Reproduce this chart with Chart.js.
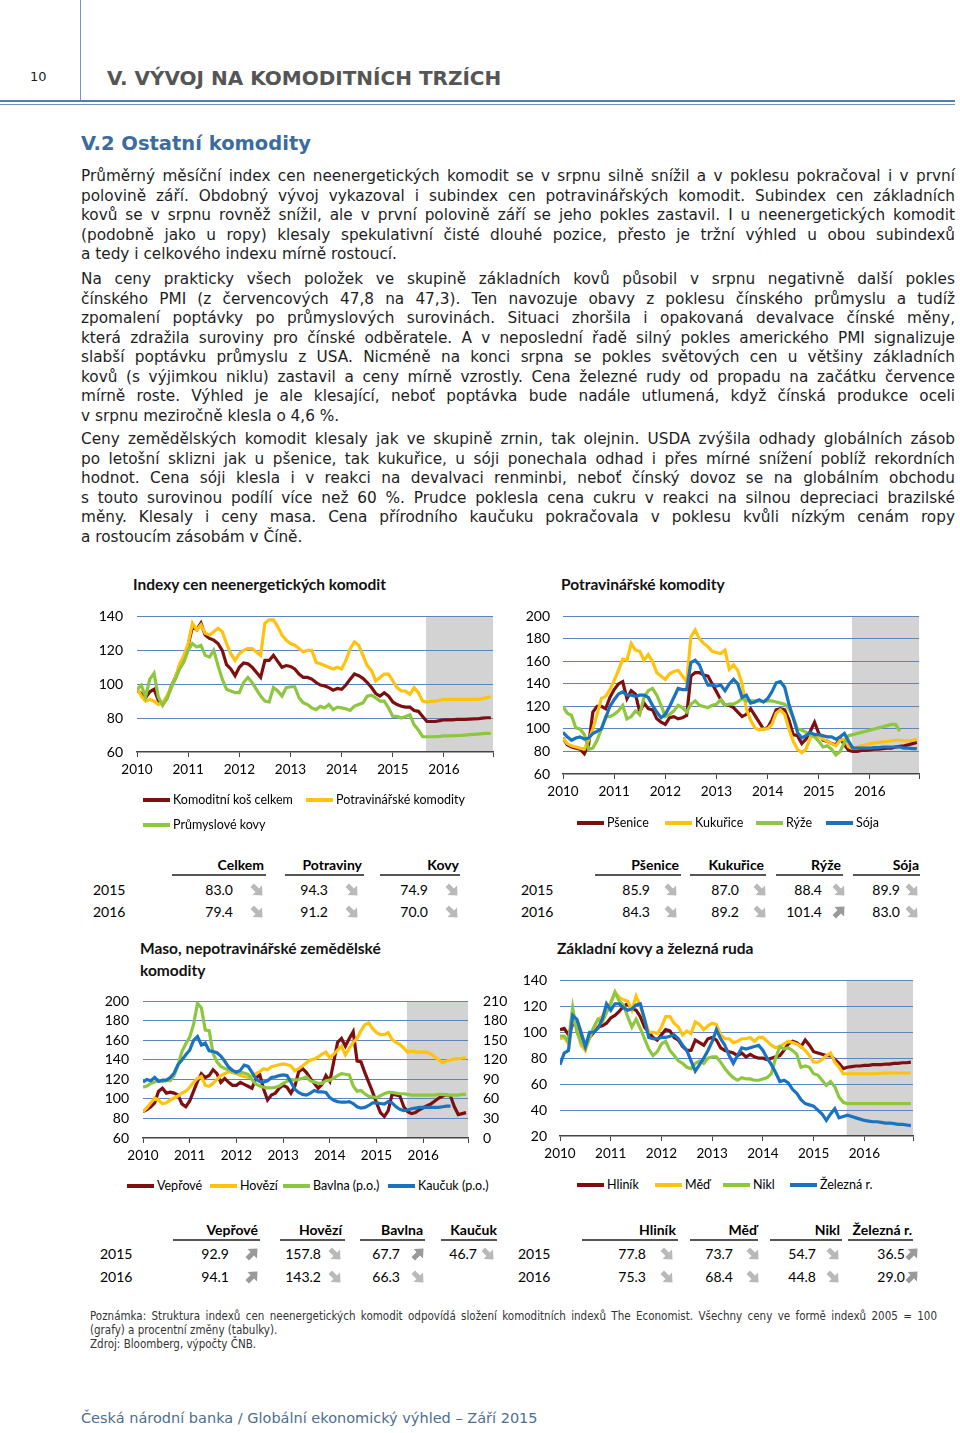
<!DOCTYPE html>
<html lang="cs">
<head>
<meta charset="utf-8">
<title>V.2 Ostatní komodity</title>
<script src="https://cdn.jsdelivr.net/npm/chart.js@4.4.1/dist/chart.umd.min.js"></script>
<style>
  body { margin: 0; width: 960px; height: 1433px; position: relative; overflow: hidden;
         background: #fff; color: #1e1e1e; font-family: 'DejaVu Sans', Verdana, sans-serif; }
  .abs { position: absolute; white-space: nowrap; }
  .pageno { left: 30px; top: 69px; font-size: 13px; }
  .vline { left: 80px; top: 0; width: 1px; height: 102px; background: #7896bd; }
  .hline1 { left: 0; top: 100px; width: 955px; height: 2px; background: #4f7db4; }
  .hline2 { left: 0; top: 104px; width: 955px; height: 1px; background: #6f93c0; }
  .chapter { left: 107px; top: 66px; font-size: 20px; font-weight: bold; color: #555; }
  .section { left: 81px; top: 132px; font-size: 19.5px; font-weight: bold; color: #3c6c9e; }
  .para { left: 81px; width: 874px; font-size: 15.3px; line-height: 19.5px; }
  .para div { white-space: nowrap; text-align: justify; text-align-last: justify; }
  .para div.last { text-align-last: left; }
  .ctitle { font-family: Lato, sans-serif; font-weight: bold; font-size: 15.5px; color: #111; line-height: 22px; }
  .lg { font-family: Lato, sans-serif; font-size: 12.5px; color: #000; }
  .sw { position: absolute; height: 3.5px; }
  .tb { font-family: Lato, sans-serif; font-size: 14px; color: #000; }
  .tb.h { font-weight: bold; }
  .ul { position: absolute; height: 1.5px; background: #555; }
  .note { left: 90px; width: 847px; font-family: 'DejaVu Sans Condensed', 'DejaVu Sans', sans-serif;
          font-stretch: condensed; font-size: 11.5px; line-height: 14px; color: #333; }
  .note div { white-space: nowrap; }
  .note div.j { text-align: justify; text-align-last: justify; }
  .footer { left: 81px; top: 1410px; font-size: 14.5px; color: #4d6f92; }
</style>
</head>
<body>

<div class="abs vline"></div>
<div class="abs pageno">10</div>
<div class="abs chapter">V. VÝVOJ NA KOMODITNÍCH TRZÍCH</div>
<div class="abs hline1"></div>
<div class="abs hline2"></div>
<div class="abs section">V.2 Ostatní komodity</div>

<div class="abs para" style="top:167px">
  <div>Průměrný měsíční index cen neenergetických komodit se v srpnu silně snížil a v poklesu pokračoval i v první</div>
  <div>polovině září. Obdobný vývoj vykazoval i subindex cen potravinářských komodit. Subindex cen základních</div>
  <div>kovů se v srpnu rovněž snížil, ale v první polovině září se jeho pokles zastavil. I u neenergetických komodit</div>
  <div>(podobně jako u ropy) klesaly spekulativní čisté dlouhé pozice, přesto je tržní výhled u obou subindexů</div>
  <div class="last">a tedy i celkového indexu mírně rostoucí.</div>
</div>
<div class="abs para" style="top:270px">
  <div>Na ceny prakticky všech položek ve skupině základních kovů působil v srpnu negativně další pokles</div>
  <div>čínského PMI (z červencových 47,8 na 47,3). Ten navozuje obavy z poklesu čínského průmyslu a tudíž</div>
  <div>zpomalení poptávky po průmyslových surovinách. Situaci zhoršila i opakovaná devalvace čínské měny,</div>
  <div>která zdražila suroviny pro čínské odběratele. A v neposlední řadě silný pokles amerického PMI signalizuje</div>
  <div>slabší poptávku průmyslu z USA. Nicméně na konci srpna se pokles světových cen u většiny základních</div>
  <div>kovů (s výjimkou niklu) zastavil a ceny mírně vzrostly. Cena železné rudy od propadu na začátku července</div>
  <div>mírně roste. Výhled je ale klesající, neboť poptávka bude nadále utlumená, když čínská produkce oceli</div>
  <div class="last">v srpnu meziročně klesla o 4,6 %.</div>
</div>
<div class="abs para" style="top:430px">
  <div>Ceny zemědělských komodit klesaly jak ve skupině zrnin, tak olejnin. USDA zvýšila odhady globálních zásob</div>
  <div>po letošní sklizni jak u pšenice, tak kukuřice, u sóji ponechala odhad i přes mírné snížení poblíž rekordních</div>
  <div>hodnot. Cena sóji klesla i v reakci na devalvaci renminbi, neboť čínský dovoz se na globálním obchodu</div>
  <div>s touto surovinou podílí více než 60 %. Prudce poklesla cena cukru v reakci na silnou depreciaci brazilské</div>
  <div>měny. Klesaly i ceny masa. Cena přírodního kaučuku pokračovala v poklesu kvůli nízkým cenám ropy</div>
  <div class="last">a rostoucím zásobám v Číně.</div>
</div>

<div class="abs ctitle" style="left:133px; top:573px">Indexy cen neenergetických komodit</div>
<div class="abs ctitle" style="left:561px; top:573px">Potravinářské komodity</div>
<div class="abs ctitle" style="left:140px; top:937px">Maso, nepotravinářské zemědělské<br>komodity</div>
<div class="abs ctitle" style="left:557px; top:937px">Základní kovy a železná ruda</div>

<div class="abs" style="left:90px; top:594px"><canvas id="c1" width="410" height="192"></canvas></div>
<div class="abs" style="left:510px; top:595px"><canvas id="c2" width="415" height="211"></canvas></div>
<div class="abs" style="left:90px; top:978px"><canvas id="c3" width="430" height="192"></canvas></div>
<div class="abs" style="left:510px; top:959px"><canvas id="c4" width="410" height="211"></canvas></div>

<div id="legends"></div>
<div id="tables"></div>

<div class="abs note" style="top:1309px">
  <div class="j">Poznámka: Struktura indexů cen neenergetických komodit odpovídá složení komoditních indexů The Economist. Všechny ceny ve formě indexů 2005 = 100</div>
  <div>(grafy) a procentní změny (tabulky).</div>
  <div>Zdroj: Bloomberg, výpočty ČNB.</div>
</div>

<div class="abs footer">Česká národní banka / Globální ekonomický výhled – Září 2015</div>

<script>
// monthly values, month 0 = January 2010; the grey band is the forecast
const MONTHS = Array.from({ length: 84 }, (_, i) => i);
const YEARS = ['2010', '2011', '2012', '2013', '2014', '2015', '2016'];
const FORECAST_FROM = 67.8;

// chart 1 - Indexy cen neenergetických komodit
const basketTotal = [96.5, 94.5, 92, 95.5, 97, 90.5, 88, 91.5, 98.5, 104, 110, 115.5,
  123, 134, 132, 136, 129, 127, 126, 124, 120, 111.5, 109, 105,
  110, 112.5, 112, 110, 107, 104, 114, 114, 117, 113.5, 110, 111,
  110.5, 109, 106, 104, 104, 103, 101, 99.5, 99, 98, 96.5, 97.5,
  97, 99.5, 103, 106, 105, 103.5, 101, 98, 94.5, 93, 95, 93,
  89.5, 88, 87, 86.5, 86.5, 84.5, 84, 81, 78, 78, 78, 78.5,
  79, 79, 79, 79.2, 79.2, 79.3, 79.4, 79.5, 79.6, 80, 80.2, 80.2];
const foodIndex = [98, 93, 90, 91, 90, 88, 89, 93, 98, 104, 112, 117,
  124, 136, 132, 135, 130, 129, 131, 133, 131, 124, 118, 114,
  118, 120, 121, 121, 119, 117, 136, 138, 138, 134, 129, 126,
  124, 123, 121, 119, 120, 120, 113, 112, 111, 110, 109, 110,
  109, 114, 121, 125, 123, 117, 111, 108, 102, 104, 106, 106,
  102, 98, 96, 96, 94, 98, 95, 90, 89.5, 89.8, 90, 90.5,
  91, 91, 91, 91, 91, 91, 91, 91, 91, 91.5, 92, 92.5];
const metalsIndex = [97, 99.5, 92.5, 103, 106.5, 92.5, 87.5, 91.5, 97.5, 103, 109, 113,
  120, 124, 122, 123, 117, 116, 120, 111, 103, 97, 96, 95,
  95, 101, 104, 101, 97, 93, 90, 89.5, 98, 96, 93, 98,
  98.5, 98.5, 92, 89, 88, 86, 85, 87, 86, 88, 85, 86.5,
  86, 85.5, 84.5, 87, 88, 89, 93, 93.5, 92, 90, 90, 86,
  81, 81, 80, 81, 82, 76, 73, 69, 69, 69, 69, 69.2,
  69.5, 69.5, 69.6, 69.7, 69.8, 70, 70.2, 70.4, 70.6, 70.8, 71, 71];

// chart 2 - Potravinářské komodity
const wheat = [92, 86, 84, 83, 82, 78, 86, 115, 120, 120, 118, 128,
  135, 140, 142, 127, 134, 131, 115, 123, 118, 117, 109, 106,
  104, 110, 111, 109, 110, 112, 147, 150, 150, 148, 147, 140,
  133, 126, 121, 121, 119, 115, 111, 113, 118, 112, 106, 100,
  101, 108, 117, 118, 117, 108, 95, 94, 87, 91, 98, 106,
  96, 90, 89, 87, 86, 92, 86, 81, 80, 80, 81, 81,
  81.5, 82, 82, 82.5, 83, 83, 84, 84.5, 85, 86, 87, 88];
const corn = [92, 87, 85, 84, 83, 82, 90, 100, 113, 127, 129, 135,
  143, 152, 162, 161, 176, 170, 169, 161, 166, 160, 150, 147,
  144, 149, 151, 152, 147, 142, 182, 188, 180, 176, 173, 169,
  168, 167, 170, 153, 157, 152, 140, 118, 108, 101, 99, 100,
  100, 104, 114, 117, 113, 100, 89, 82, 79, 82, 92, 95,
  93, 91, 89, 87, 85, 90, 91, 84, 83, 84, 85, 86,
  87, 87.5, 88, 88.5, 89, 89.5, 90, 90, 89.5, 89.5, 90, 91];
const rice = [120, 114, 112, 101, 100, 95, 82, 83, 90, 100, 111, 111,
  113, 116, 121, 109, 111, 116, 113, 128, 134, 136, 130, 121,
  111, 113, 116, 121, 119, 115, 122, 125, 121, 120, 119, 121,
  122, 126, 121, 122, 122, 124, 127, 125, 125, 125, 125, 124,
  125, 125, 124, 123, 122, 118, 110, 100, 99, 97, 95, 93,
  89, 84, 85, 82, 77, 80, 88, 94, 95, 96, 97, 98,
  99, 100, 101, 102, 103, 104, 104, 98];
const soy = [97, 93, 90, 92, 93, 91, 92, 96, 98, 100, 110, 120,
  126, 131, 133, 130, 130, 129, 130, 130, 128, 121, 115, 110,
  113, 120, 128, 136, 135, 135, 159, 161, 157, 147, 139, 139,
  138, 139, 134, 140, 144, 140, 128, 130, 123, 124, 126, 124,
  127, 133, 141, 142, 137, 122, 110, 97, 92, 94, 97, 95,
  95, 94, 93, 93, 91, 93, 96, 89, 83, 83, 83, 83,
  83, 83.5, 83.5, 84, 84, 84, 84, 84, 83, 83, 82.5, 82.5];

// chart 3 - Maso, nepotravinářské zemědělské komodity (p.o. = right axis)
const pork = [87, 89, 92, 96, 108, 111, 106, 107, 106, 104, 95, 92,
  98, 108, 118, 126, 122, 124, 130, 126, 117, 121, 117, 114,
  114, 117, 115, 113, 111, 121, 125, 110, 99, 104, 106, 111,
  114, 112, 106, 113, 128, 131, 127, 121, 116, 111, 115, 124,
  118, 138, 158, 162, 154, 162, 169, 139, 138, 127, 117, 107,
  96, 86, 82, 88, 105, 104, 103, 92, 87, 85, 86, 89,
  91, 93, 95, 98, 101, 103, 104, 103, 92, 84, 85, 86];
const beef = [87, 91, 96, 101, 99, 95, 96, 99, 101, 103, 106, 108,
  112, 117, 121, 123, 114, 113, 116, 120, 124, 126, 128, 127,
  126, 124, 123, 122, 124, 126, 128, 131, 130, 133, 134, 135,
  136, 135, 134, 129, 131, 134, 137, 140, 141, 143, 146, 148,
  142, 146, 150, 154, 145, 152, 158, 162, 170, 176, 178, 172,
  168, 166, 166, 168, 161, 158, 156, 152, 148, 149, 148, 148,
  148, 148, 146, 143, 140, 137, 139, 140, 141, 141, 142, 142];
const cotton = [78, 80, 84, 86, 89, 87, 88, 88, 96, 112, 133, 145,
  155, 175, 207, 200, 166, 165, 130, 117, 110, 107, 105, 103,
  100, 101, 100, 98, 90, 83, 80, 78, 77, 77, 78, 80,
  84, 87, 90, 89, 90, 92, 94, 88, 86, 84, 84, 88,
  89, 92, 96, 99, 98, 97, 80, 72, 73, 68, 64, 63,
  62, 65, 68, 70, 70, 69, 68, 68, 67, 66, 66, 66,
  66, 66, 66, 66, 67, 67, 66, 66, 66, 66, 67, 67];
const rubber = [86, 90, 88, 93, 87, 89, 89, 93, 100, 113, 120, 128,
  135, 150, 156, 143, 146, 134, 133, 131, 126, 118, 109, 104,
  101, 104, 112, 110, 101, 91, 87, 86, 88, 93, 94, 96,
  97, 96, 86, 75, 70, 67, 66, 69, 73, 71, 71, 70,
  62, 58, 56, 55, 55, 56, 53, 48, 46, 47, 50, 54,
  54, 53, 52, 56, 54, 48, 44, 42, 43, 45, 46, 47,
  47, 47, 47, 47, 47, 48, 49, 49];

// chart 4 - Základní kovy a železná ruda
const aluminium = [102, 103, 98, 106, 107, 92, 89, 96, 100, 104, 105, 107,
  111, 113, 116, 120, 122, 118, 117, 112, 104, 100, 96, 94,
  98, 102, 101, 96, 94, 89, 86, 86, 94, 92, 90, 95,
  96, 94, 88, 86, 85, 84, 82, 84, 81, 83, 81, 80,
  80, 79, 80, 81, 82, 86, 91, 93, 92, 89, 94, 90,
  85, 84, 83, 82, 82, 79, 76, 72, 73, 73.5, 74, 74,
  74.5, 74.5, 75, 75, 75, 75.5, 75.5, 76, 76, 76.5, 76.5, 77];
const copper = [95, 96, 91, 112, 102, 90, 86, 96, 103, 110, 112, 118,
  123, 131, 127, 125, 124, 117, 128, 120, 110, 100, 100, 99,
  104, 112, 112, 107, 104, 98, 101, 99, 108, 106, 102, 105,
  107, 106, 98, 95, 95, 92, 93, 95, 95, 96, 93, 96,
  96, 93, 90, 88, 89, 91, 93, 92, 91, 89, 86, 82,
  77, 77, 79, 82, 84, 77, 73, 68, 68, 68, 68, 68,
  68, 68, 68, 68.2, 68.4, 68.5, 68.6, 68.6, 68.6, 68.6, 68.6, 68.6];
const nickel = [97, 97, 93, 119, 100, 92, 88, 96, 104, 110, 108, 115,
  122, 131, 124, 121, 112, 104, 110, 103, 95, 87, 82, 85,
  91, 93, 86, 82, 78, 76, 73, 72, 76, 78, 76, 80,
  81, 81, 77, 72, 68, 65, 63, 65, 64, 64, 63, 63,
  64, 65, 68, 80, 89, 87, 88, 86, 83, 73, 74, 73,
  68, 67, 63, 59, 62, 58, 50, 46, 45, 45, 45, 45,
  45, 45, 45, 45, 45, 45, 45, 45, 45, 45, 45, 45];
const ironOre = [75, 84, 86, 113, 110, 100, 89, 100, 100, 103, 110, 122,
  117, 122, 122, 119, 117, 118, 121, 122, 110, 96, 95, 95,
  96, 96, 97, 98, 95, 90, 86, 78, 70, 75, 80, 86,
  93, 102, 95, 90, 82, 76, 82, 88, 87, 88, 89, 90,
  86, 80, 75, 69, 62, 63, 61, 56, 53, 48, 45, 44,
  43, 40, 37, 32, 37, 41, 34, 35, 36, 35, 34, 33,
  32, 31.5, 31, 31, 30.5, 30, 30, 29.5, 29, 29, 28.5, 28];

// tables: yearly averages and arrows (d = falling, u = rising)
const tableYears = ['2015', '2016'];
const tab1Heads = ['Celkem', 'Potraviny', 'Kovy'];
const tab1Vals = [['83.0', '94.3', '74.9'], ['79.4', '91.2', '70.0']];
const tab1Dirs = [['d', 'd', 'd'], ['d', 'd', 'd']];
const tab2Heads = ['Pšenice', 'Kukuřice', 'Rýže', 'Sója'];
const tab2Vals = [['85.9', '87.0', '88.4', '89.9'], ['84.3', '89.2', '101.4', '83.0']];
const tab2Dirs = [['d', 'd', 'd', 'd'], ['d', 'd', 'u', 'd']];
const tab3Heads = ['Vepřové', 'Hovězí', 'Bavlna', 'Kaučuk'];
const tab3Vals = [['92.9', '157.8', '67.7', '46.7'], ['94.1', '143.2', '66.3', '']];
const tab3Dirs = [['u', 'd', 'u', 'd'], ['u', 'd', 'd', '']];
const tab4Heads = ['Hliník', 'Měď', 'Nikl', 'Železná r.'];
const tab4Vals = [['77.8', '73.7', '54.7', '36.5'], ['75.3', '68.4', '44.8', '29.0']];
const tab4Dirs = [['d', 'd', 'd', 'u'], ['d', 'd', 'd', 'u']];

const RED = '#7d0f0f', YELLOW = '#ffc20e', GREEN = '#8dc63f', BLUE = '#1a73c0';
const GRID = '#5a85c0';

Chart.defaults.font.family = 'Lato, sans-serif';
Chart.defaults.color = '#000';

const shadePlugin = {
  id: 'shade',
  beforeDraw(chart) {
    const { ctx, chartArea: a, scales: { x } } = chart;
    const x0 = x.getPixelForValue(FORECAST_FROM);
    ctx.save();
    ctx.fillStyle = '#d3d3d3';
    ctx.fillRect(x0, a.top, a.right - x0, a.bottom - a.top);
    ctx.restore();
  }
};

function xAxis(h) {
  return {
    type: 'linear', min: 0, max: 83.5,
    afterBuildTicks: s => { s.ticks = [0, 12, 24, 36, 48, 60, 72, 83.5].map(v => ({ value: v })); },
    afterFit: s => { s.height = h; },
    grid: { drawOnChartArea: false, drawTicks: true, tickLength: 5, color: '#444', lineWidth: 1 },
    border: { color: '#444', width: 1.5 },
    ticks: { padding: 5, maxRotation: 0, autoSkip: false, font: { size: 13.5 },
      callback: v => (v % 12 === 0 ? YEARS[v / 12] : '') }
  };
}

function yAxis(min, max, step, w, pad, pos) {
  return {
    position: pos || 'left', min, max,
    afterFit: s => { s.width = w; },
    ticks: { stepSize: step, padding: pad, autoSkip: false, font: { size: 14 } },
    grid: pos === 'right' ? { display: false, drawTicks: false } : {
      drawTicks: false, lineWidth: 1,
      color: c => (c.tick && c.tick.value === min ? 'rgba(0,0,0,0)' : GRID)
    },
    border: { display: false }
  };
}

function makeChart(id, series, scales, padding) {
  const n = series.length;
  new Chart(document.getElementById(id), {
    type: 'line',
    data: {
      labels: MONTHS,
      datasets: series.map((s, i) => ({
        label: s.name, data: s.data, borderColor: s.color, borderWidth: 3.2,
        pointRadius: 0, tension: 0, fill: false, yAxisID: s.axis || 'y', order: n - i
      }))
    },
    options: {
      responsive: false, animation: false, events: [],
      layout: { padding },
      plugins: { legend: { display: false }, tooltip: { enabled: false } },
      scales
    },
    plugins: [shadePlugin]
  });
  return series;
}

const s1 = makeChart('c1', [
  { name: 'Komoditní koš celkem', data: basketTotal, color: RED },
  { name: 'Potravinářské komodity', data: foodIndex, color: YELLOW },
  { name: 'Průmyslové kovy', data: metalsIndex, color: GREEN }
], { x: xAxis(34), y: yAxis(60, 140, 20, 47, 14) }, { top: 10, right: 7 });

const s2 = makeChart('c2', [
  { name: 'Pšenice', data: wheat, color: RED },
  { name: 'Kukuřice', data: corn, color: YELLOW },
  { name: 'Rýže', data: rice, color: GREEN },
  { name: 'Sója', data: soy, color: BLUE }
], { x: xAxis(32), y: yAxis(60, 200, 20, 53, 13) }, { top: 10, right: 6 });

const s3 = makeChart('c3', [
  { name: 'Vepřové', data: pork, color: RED },
  { name: 'Hovězí', data: beef, color: YELLOW },
  { name: 'Bavlna (p.o.)', data: cotton, color: GREEN, axis: 'y1' },
  { name: 'Kaučuk (p.o.)', data: rubber, color: BLUE, axis: 'y1' }
], { x: xAxis(32), y: yAxis(60, 200, 20, 53, 14), y1: yAxis(0, 210, 30, 52, 15, 'right') }, { top: 11, right: 0 });

const s4 = makeChart('c4', [
  { name: 'Hliník', data: aluminium, color: RED },
  { name: 'Měď', data: copper, color: YELLOW },
  { name: 'Nikl', data: nickel, color: GREEN },
  { name: 'Železná r.', data: ironOre, color: BLUE }
], { x: xAxis(34), y: yAxis(20, 140, 20, 50, 13) }, { top: 10, right: 7 });

// html legends: [swatch left, centre y] per series
function legend(series, spots) {
  const box = document.getElementById('legends');
  series.forEach((s, i) => {
    const [x, y] = spots[i];
    const sw = document.createElement('div');
    sw.className = 'sw';
    sw.style.cssText = `left:${x}px; top:${y - 1.75}px; width:27px; background:${s.color}`;
    const t = document.createElement('div');
    t.className = 'abs lg';
    t.style.cssText = `left:${x + 30}px; top:${y - 8}px`;
    t.textContent = s.name;
    box.append(sw, t);
  });
}
legend(s1, [[143, 800], [306, 800], [143, 825]]);
legend(s2, [[577, 823], [665, 823], [756, 823], [826, 823]]);
legend(s3, [[127, 1186], [210, 1186], [283, 1186], [388, 1186]]);
legend(s4, [[577, 1185], [655, 1185], [723, 1185], [790, 1185]]);

function arrow(dir) {
  const p = dir === 'u'
    ? 'M0.5 10 L4 13.5 L9 8.5 L12 11.5 L12.5 1.5 L2.5 2 L5.5 5 Z'
    : 'M0.5 4 L4 0.5 L9 5.5 L12 2.5 L12.5 12.5 L2.5 12 L5.5 9 Z';
  const c = dir === 'u' ? '#9a9a9a' : '#b9b9b9';
  return `<svg width="14" height="14" viewBox="0 0 14 14"><path d="${p}" fill="${c}"/></svg>`;
}

// cols: [header right, underline left, underline right, value right, arrow left]
function table(heads, vals, dirs, cols, yearX, headY, rowY) {
  const box = document.getElementById('tables');
  let html = '';
  heads.forEach((h, j) => {
    const [hr, ul, ur] = cols[j];
    html += `<div class="abs tb h" style="right:${960 - hr}px; top:${headY - 9}px">${h}</div>`;
    html += `<div class="ul" style="left:${ul}px; top:${headY + 9}px; width:${ur - ul}px"></div>`;
  });
  tableYears.forEach((yr, r) => {
    const y = rowY[r];
    html += `<div class="abs tb" style="left:${yearX}px; top:${y - 9}px">${yr}</div>`;
    vals[r].forEach((v, j) => {
      if (!v) return;
      const [, , , vr, ax] = cols[j];
      html += `<div class="abs tb" style="right:${960 - vr}px; top:${y - 9}px">${v}</div>`;
      html += `<div class="abs" style="left:${ax}px; top:${y - 8}px">${arrow(dirs[r][j])}</div>`;
    });
  });
  box.insertAdjacentHTML('beforeend', html);
}
table(tab1Heads, tab1Vals, tab1Dirs,
  [[264, 172, 266, 233, 250], [362, 285, 364, 328, 345], [459, 380, 460, 428, 445]], 93, 865, [890, 912]);
table(tab2Heads, tab2Vals, tab2Dirs,
  [[679, 595, 681, 650, 664], [764, 690, 766, 739, 753], [841, 776, 843, 822, 832], [919, 853, 920, 900, 905]], 521, 865, [890, 912]);
table(tab3Heads, tab3Vals, tab3Dirs,
  [[258, 173, 260, 229, 245], [342, 280, 345, 321, 328], [423, 360, 425, 400, 411], [497, 441, 497, 477, 481]], 100, 1230, [1254, 1277]);
table(tab4Heads, tab4Vals, tab4Dirs,
  [[676, 582, 678, 646, 660], [757, 690, 758, 733, 746], [840, 770, 842, 816, 826], [912, 848, 913, 905, 905]], 518, 1230, [1254, 1277]);
</script>
</body>
</html>
